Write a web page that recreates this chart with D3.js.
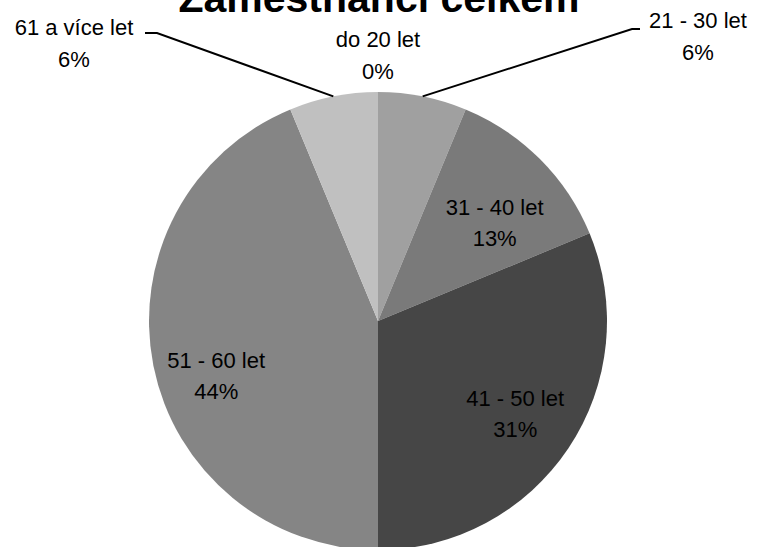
<!DOCTYPE html>
<html>
<head>
<meta charset="utf-8">
<script src="https://cdn.jsdelivr.net/npm/d3@7"></script>
<style>
  body { margin: 0; background: #fff; }
  svg { display: block; font-family: "Liberation Sans", Arial, sans-serif; }
</style>
</head>
<body>
<svg id="chart" width="758" height="547"></svg>
<script>
// věkové skupiny
const categories = ['do 20 let', '21 - 30 let', '31 - 40 let', '41 - 50 let', '51 - 60 let', '61 a více let'];
// počty zaměstnanců
const counts = [0, 1, 2, 5, 7, 1];
const percents = ['0%', '6%', '13%', '31%', '44%', '6%'];
const colors = ['#b0b0b0', '#a0a0a0', '#7a7a7a', '#464646', '#858585', '#c0c0c0'];

const svg = d3.select('#chart');
const cx = 378, cy = 321, R = 229;

// titulek (nahoře oříznutý)
svg.append('text')
  .attr('x', 379).attr('y', 12)
  .attr('text-anchor', 'middle')
  .attr('font-size', 41).attr('font-weight', 'bold')
  .attr('fill', '#000')
  .text('Zaměstnanci celkem');

const data = categories.map((c, i) => ({ cat: c, value: counts[i], pct: percents[i], color: colors[i] }));

const pie = d3.pie().value(d => d.value).sort(null);
const arcs = pie(data);
const arc = d3.arc().innerRadius(0).outerRadius(R);
const labelArc = d3.arc().innerRadius(165).outerRadius(165);

const g = svg.append('g').attr('transform', `translate(${cx},${cy})`);

g.selectAll('path.slice')
  .data(arcs.filter(d => d.value > 0))
  .join('path')
  .attr('class', 'slice')
  .attr('d', arc)
  .attr('fill', d => d.data.color);

// vnější popisky (malé výseče) s vodicí čarou
const outside = {
  'do 20 let': { x: 0, y: -274 },
  '21 - 30 let': { x: 320, y: -293, hx: 262, kx: 254, ly: -292 },
  '61 a více let': { x: -304, y: -286, hx: -233, kx: -221, ly: -288 }
};
// posun vnitřních popisků
const nudge = { '31 - 40 let': 18, '41 - 50 let': 0, '51 - 60 let': 22 };

arcs.forEach(d => {
  const o = outside[d.data.cat];
  let x, y, gap;
  if (o) {
    x = o.x; y = o.y; gap = 32;
    if (o.hx !== undefined) {
      const mid = (d.startAngle + d.endAngle) / 2;
      const px = Math.sin(mid) * R, py = -Math.cos(mid) * R;
      g.append('polyline')
        .attr('points', `${px},${py} ${o.kx},${o.ly} ${o.hx},${o.ly}`)
        .attr('fill', 'none').attr('stroke', '#000').attr('stroke-width', 2);
    }
  } else {
    [x, y] = labelArc.centroid(d);
    y += nudge[d.data.cat] - 7;
    gap = 31;
  }
  const t = g.append('text')
    .attr('text-anchor', 'middle')
    .attr('font-size', 22)
    .attr('fill', '#000');
  t.append('tspan').attr('x', x).attr('y', y).text(d.data.cat);
  t.append('tspan').attr('x', x).attr('y', y + gap).text(d.data.pct);
});
</script>
</body>
</html>
